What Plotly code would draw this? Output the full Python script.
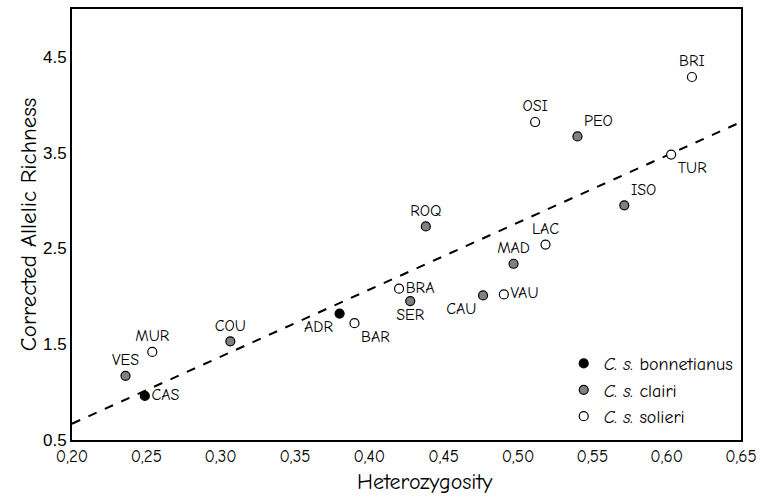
import plotly.graph_objects as go

# Data
bon_names = ["ADR", "CAS"]
bon_x = [0.380, 0.249]
bon_y = [1.82, 0.96]
bon_pos = ["bottom left", "middle right"]

cla_names = ["VES", "COU", "ROQ", "SER", "CAU", "MAD", "PEO", "ISO"]
cla_x = [0.236, 0.3065, 0.438, 0.4275, 0.4765, 0.497, 0.540, 0.5715]
cla_y = [1.17, 1.53, 2.73, 1.95, 2.01, 2.34, 3.67, 2.95]
cla_pos = ["top center", "top center", "top center", "bottom center",
           "bottom left", "top center", "top right", "top right"]

sol_names = ["MUR", "BAR", "BRA", "VAU", "LAC", "OSI", "TUR", "BRI"]
sol_x = [0.254, 0.390, 0.420, 0.4905, 0.5185, 0.5115, 0.603, 0.617]
sol_y = [1.42, 1.72, 2.08, 2.02, 2.54, 3.82, 3.48, 4.29]
sol_pos = ["top center", "bottom right", "middle right", "middle right",
           "top center", "top center", "bottom right", "top center"]

fit_x = [0.20, 0.65]
fit_y = [0.67, 3.82]

x_ticks = [0.20, 0.25, 0.30, 0.35, 0.40, 0.45, 0.50, 0.55, 0.60, 0.65]
x_ticklabels = ["0,20", "0,25", "0,30", "0,35", "0,40", "0,45", "0,50", "0,55", "0,60", "0,65"]
y_ticks = [0.5, 1.5, 2.5, 3.5, 4.5]
y_ticklabels = ["0.5", "1.5", "2.5", "3.5", "4.5"]

COMIC = "Comic Sans MS, Comic Neue, Noto Sans, DejaVu Sans, sans-serif"
ARIAL = "Liberation Sans, Arial, sans-serif"

fig = go.Figure()

fig.add_trace(go.Scatter(
    x=fit_x, y=fit_y, mode="lines",
    line=dict(color="black", width=2, dash="dash"),
    showlegend=False, hoverinfo="skip"))

def add_group(names, xs, ys, pos, fill, label):
    fig.add_trace(go.Scatter(
        x=xs, y=ys, mode="markers+text", text=names, textposition=pos,
        textfont=dict(family=COMIC, size=16, color="black"),
        marker=dict(size=9, color=fill, line=dict(color="black", width=1.2)),
        name=label))

add_group(bon_names, bon_x, bon_y, bon_pos, "black", "<i>C. s.</i> bonnetianus")
add_group(cla_names, cla_x, cla_y, cla_pos, "#808080", "<i>C. s.</i> clairi")
add_group(sol_names, sol_x, sol_y, sol_pos, "white", "<i>C. s.</i> solieri")

fig.update_layout(
    width=764, height=496,
    margin=dict(l=72, r=17, t=7, b=56),
    plot_bgcolor="white", paper_bgcolor="white",
    font=dict(family=COMIC, size=15, color="black"),
    legend=dict(x=0.735, y=0.22, xanchor="left", yanchor="top",
                bgcolor="rgba(0,0,0,0)", font=dict(family=COMIC, size=18),
                tracegroupgap=0),
    annotations=[dict(text="Heterozygosity", xref="paper", yref="paper",
                      x=0.528, y=-0.097, xanchor="center", yanchor="middle",
                      showarrow=False, font=dict(family=COMIC, size=22))],
)
fig.update_xaxes(range=[0.2, 0.65], tickvals=x_ticks, ticktext=x_ticklabels,
                 showgrid=False, zeroline=False, showline=True, linecolor="black",
                 linewidth=2, mirror=True, ticks="",
                 tickfont=dict(family=COMIC, size=17))
fig.update_yaxes(range=[0.5, 5.0], tickvals=y_ticks, ticktext=y_ticklabels,
                 showgrid=False, zeroline=False, showline=True, linecolor="black",
                 linewidth=2, mirror=True, ticks="",
                 tickfont=dict(family=ARIAL, size=17),
                 title=dict(text="Corrected Allelic Richness",
                            font=dict(family=COMIC, size=23), standoff=0))

fig.write_html("out.html",
               config={"displayModeBar": False},
               post_script="document.body.style.margin='0';"
                           "document.body.style.overflow='hidden';")
